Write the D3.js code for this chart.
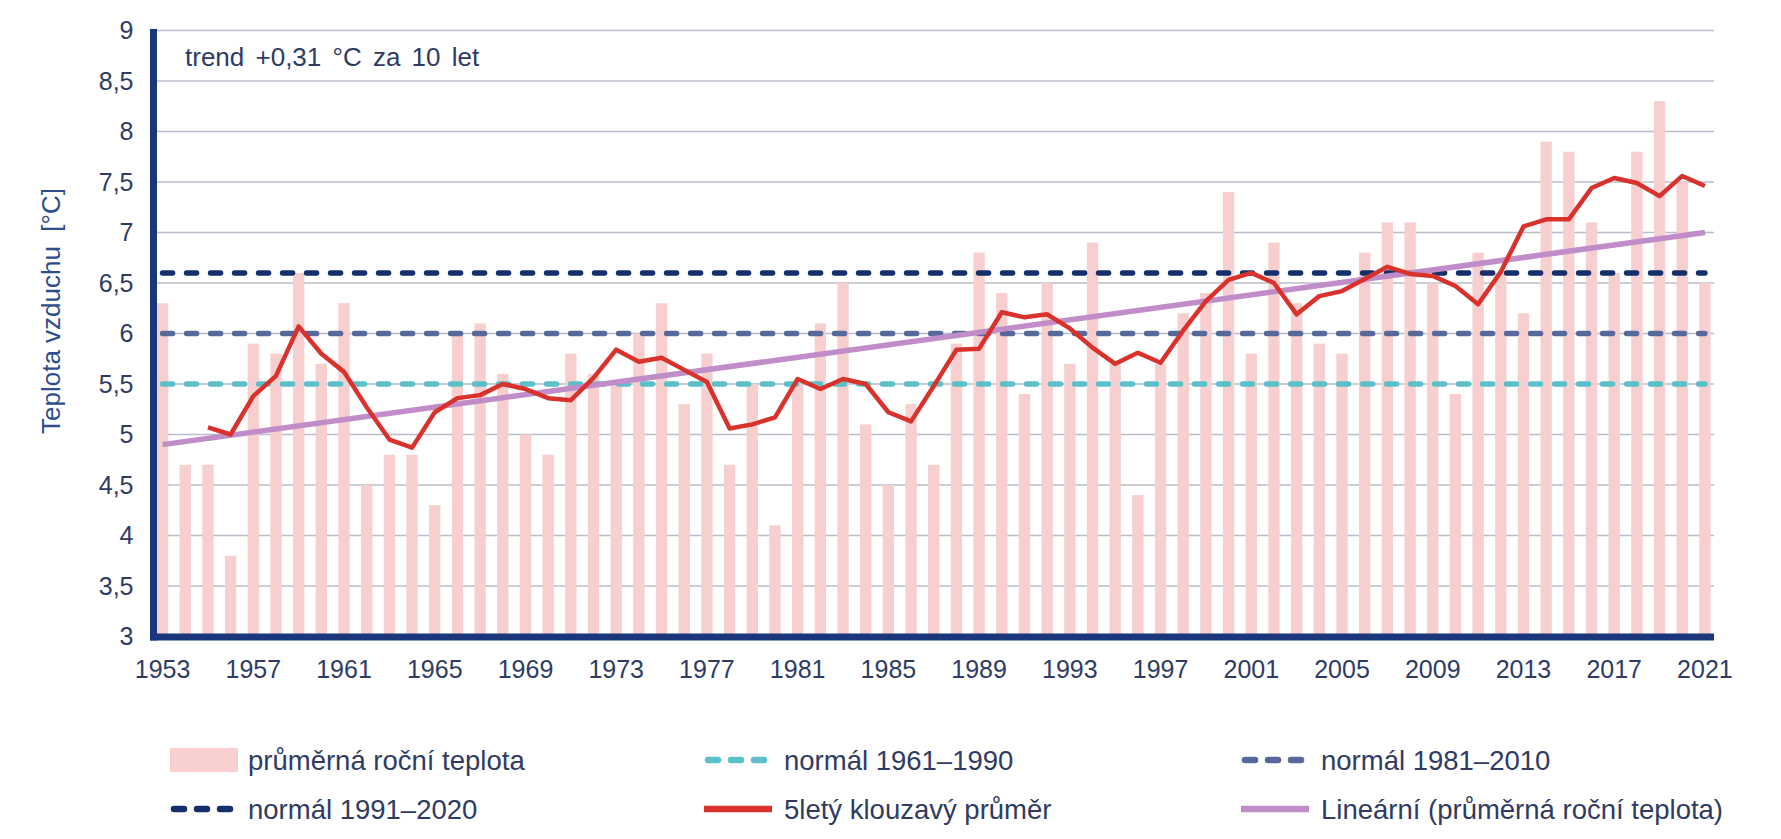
<!DOCTYPE html>
<html><head><meta charset="utf-8">
<script src="https://cdn.jsdelivr.net/npm/d3@7"></script>
<style>body{margin:0;background:#fff}svg{display:block}</style>
</head><body><svg id="c" width="1781" height="839"></svg>
<script>
const years = [1953,1954,1955,1956,1957,1958,1959,1960,1961,1962,1963,1964,1965,1966,1967,1968,1969,1970,
 1971,1972,1973,1974,1975,1976,1977,1978,1979,1980,1981,1982,1983,1984,1985,1986,1987,1988,1989,1990,
 1991,1992,1993,1994,1995,1996,1997,1998,1999,2000,2001,2002,2003,2004,2005,2006,2007,2008,2009,2010,
 2011,2012,2013,2014,2015,2016,2017,2018,2019,2020,2021];
const annualTemp = [6.3,4.7,4.7,3.8,5.9,5.8,6.6,5.7,6.3,4.5,4.8,4.8,4.3,6.0,6.1,5.6,5.0,4.8,
 5.8,5.6,5.5,6.0,6.3,5.3,5.8,4.7,5.5,4.1,5.5,6.1,6.5,5.1,4.5,5.3,4.7,5.9,6.8,6.4,
 5.4,6.5,5.7,6.9,5.7,4.4,5.7,6.2,6.4,7.4,5.8,6.9,6.3,5.9,5.8,6.8,7.1,7.1,6.5,5.4,
 6.8,6.6,6.2,7.9,7.8,7.1,6.6,7.8,8.3,7.5,6.5];
const movingAvgYears = years.slice(2);
const movingAvg = [5.07,5.0,5.38,5.58,6.07,5.8,5.62,5.27,4.95,4.87,5.22,5.36,5.39,5.5,5.45,5.36,
 5.34,5.56,5.84,5.72,5.76,5.64,5.52,5.06,5.1,5.17,5.55,5.45,5.55,5.5,5.22,5.13,5.48,5.84,5.85,6.21,
 6.16,6.19,6.05,5.86,5.7,5.81,5.71,6.03,6.32,6.53,6.6,6.5,6.19,6.37,6.42,6.54,6.66,6.59,6.57,6.47,
 6.29,6.61,7.06,7.13,7.13,7.44,7.54,7.49,7.36,7.56,7.46];
const trendYears = [1953, 2021];
const trendValues = [4.9, 7.0];
const normalLabels = ["normál 1961–1990", "normál 1981–2010", "normál 1991–2020"];
const normalValues = [5.5, 6.0, 6.6];
const normalColors = ["#5cc0c9", "#56699a", "#142f6b"];
const yTicks = [3,3.5,4,4.5,5,5.5,6,6.5,7,7.5,8,8.5,9];
const xTickYears = [1953,1957,1961,1965,1969,1973,1977,1981,1985,1989,1993,1997,2001,2005,2009,2013,2017,2021];
const trendNote = "trend +0,31 °C za 10 let";
const yTitle = "Teplota vzduchu  [°C]";
const legendLabels = ["průměrná roční teplota","normál 1961–1990","normál 1981–2010",
  "normál 1991–2020","5letý klouzavý průměr","Lineární (průměrná roční teplota)"];

const C = { bar:"#f7cfcf", red:"#d9322d", purple:"#c18dc8", axis:"#1b377b", grid:"#babdca", text:"#2f3b62" };
const FONT = "'Liberation Sans', Arial, sans-serif";

const svg = d3.select("#c");
const x = d3.scaleBand().domain(years).range([153.5, 1714]).paddingInner(0.5).paddingOuter(0.15);
const y = d3.scaleLinear().domain([3, 9]).range([636.5, 30.5]);
const cx = d => x(d) + x.bandwidth() / 2;
const fmt = d => String(d).replace(".", ",");

// gridlines
svg.append("g").selectAll("line").data(yTicks.filter(d => d > 3)).join("line")
  .attr("x1", 153.5).attr("x2", 1714).attr("y1", d => y(d)).attr("y2", d => y(d))
  .attr("stroke", C.grid).attr("stroke-width", 1.6);

// bars
svg.append("g").selectAll("rect").data(years).join("rect")
  .attr("x", d => x(d)).attr("width", x.bandwidth())
  .attr("y", (d, i) => y(annualTemp[i])).attr("height", (d, i) => y(3) - y(annualTemp[i]))
  .attr("fill", C.bar);

// normals
normalValues.forEach((v, i) => {
  svg.append("line").attr("x1", cx(years[0])).attr("x2", cx(years[years.length - 1]))
    .attr("y1", y(v)).attr("y2", y(v))
    .attr("stroke", normalColors[i]).attr("stroke-width", 5.5)
    .attr("stroke-dasharray", "10,14").attr("stroke-linecap", "round");
});

// trend
svg.append("path").datum(trendYears.map((yr, i) => [yr, trendValues[i]]))
  .attr("d", d3.line().x(d => cx(d[0])).y(d => y(d[1])))
  .attr("fill", "none").attr("stroke", C.purple).attr("stroke-width", 5.5);

// moving average
svg.append("path").datum(movingAvgYears.map((yr, i) => [yr, movingAvg[i]]))
  .attr("d", d3.line().x(d => cx(d[0])).y(d => y(d[1])))
  .attr("fill", "none").attr("stroke", C.red).attr("stroke-width", 4.5)
  .attr("stroke-linejoin", "round");

// axes
const yAxis = svg.append("g").attr("transform", "translate(153.5,0)")
  .call(d3.axisLeft(y).tickValues(yTicks).tickFormat(fmt).tickSize(0).tickPadding(20));
yAxis.select(".domain").remove();
yAxis.selectAll("text").attr("font-family", FONT).attr("font-size", 25).attr("fill", C.text);

const xAxis = svg.append("g").attr("transform", "translate(0,637)")
  .call(d3.axisBottom(x).tickValues(xTickYears).tickSize(0).tickPadding(23));
xAxis.select(".domain").remove();
xAxis.selectAll("text").attr("font-family", FONT).attr("font-size", 25).attr("fill", C.text);

svg.append("line").attr("x1", 153.5).attr("x2", 153.5).attr("y1", 29).attr("y2", 640.5)
  .attr("stroke", C.axis).attr("stroke-width", 7);
svg.append("line").attr("x1", 150).attr("x2", 1714).attr("y1", 637).attr("y2", 637)
  .attr("stroke", C.axis).attr("stroke-width", 7);

// texts
svg.append("text").attr("x", 185).attr("y", 57).attr("dy", "0.35em")
  .attr("font-family", FONT).attr("font-size", 26).attr("fill", C.text)
  .attr("word-spacing", 4).text(trendNote);
svg.append("text").attr("transform", "translate(51,311) rotate(-90)")
  .attr("text-anchor", "middle").attr("dy", "0.35em")
  .attr("font-family", FONT).attr("font-size", 26).attr("fill", "#2f4d8c")
  .style("white-space", "pre").text(yTitle);

// legend
const rowsY = [760, 809];
const swX = [170, 704, 1241];
const txX = [248, 784, 1321];
const kinds = ["bar", "dash0", "dash1", "dash2", "red", "purple"];
legendLabels.forEach((lab, i) => {
  const r = Math.floor(i / 3), c = i % 3, yy = rowsY[r];
  const g = svg.append("g");
  const k = kinds[i];
  if (k === "bar") {
    g.append("rect").attr("x", swX[c]).attr("y", yy - 12).attr("width", 68).attr("height", 24).attr("fill", C.bar);
  } else if (k.startsWith("dash")) {
    g.append("line").attr("x1", swX[c] + 4).attr("x2", swX[c] + 66).attr("y1", yy).attr("y2", yy)
      .attr("stroke", normalColors[+k.slice(4)]).attr("stroke-width", 6.5)
      .attr("stroke-dasharray", "10,13").attr("stroke-linecap", "round");
  } else {
    g.append("line").attr("x1", swX[c]).attr("x2", swX[c] + 68).attr("y1", yy).attr("y2", yy)
      .attr("stroke", k === "red" ? C.red : C.purple).attr("stroke-width", 6.5);
  }
  g.append("text").attr("x", txX[c]).attr("y", yy).attr("dy", "0.35em")
    .attr("font-family", FONT).attr("font-size", 27.5).attr("fill", C.text).text(lab);
});
</script></body></html>
